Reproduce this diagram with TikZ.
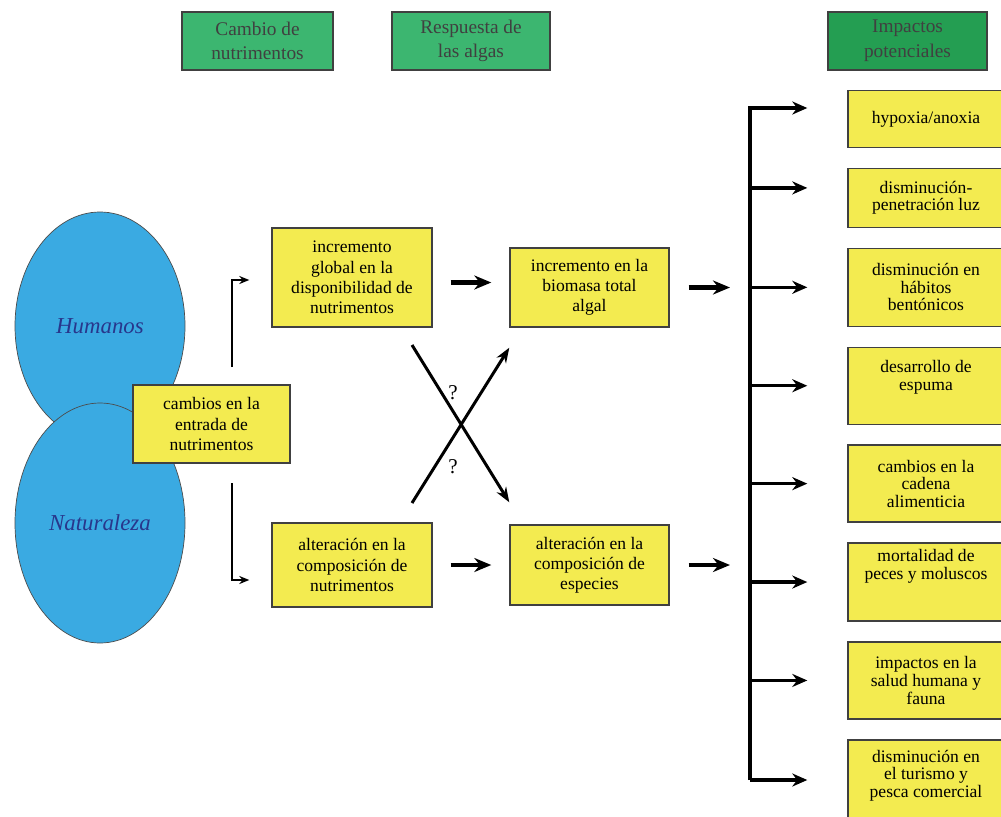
\documentclass[tikz,border=0pt]{standalone}
\usepackage{fontspec}
\setmainfont{Liberation Serif}
\usetikzlibrary{arrows.meta,positioning,shapes.geometric}
\definecolor{boxyellow}{RGB}{243,235,80}
\definecolor{hdrgreen}{RGB}{60,182,112}
\definecolor{hdrdark}{RGB}{36,158,82}
\definecolor{blobblue}{RGB}{58,170,226}
\definecolor{blobtext}{RGB}{40,55,140}
\tikzset{
    box/.style={rectangle,draw=black!75,thick,fill=boxyellow,align=center,
                font=\fontsize{10}{11.5}\selectfont,minimum width=31.8mm},
    impact/.style={box,minimum width=31.2mm,font=\fontsize{10}{10}\selectfont},
    hdr/.style={rectangle,draw=black!75,thick,fill=hdrgreen,align=center,
                text=black!75,font=\fontsize{11}{14}\selectfont,minimum height=11.6mm},
    blob/.style={ellipse,draw=black!70,fill=blobblue,text=blobtext,
                 font=\fontsize{13}{15}\selectfont\itshape,minimum width=34mm},
    fat/.style={-{Stealth[length=3.4mm,width=2.8mm]},line width=2.4pt},
    bus/.style={-{Stealth[length=3mm,width=2.6mm]},line width=2pt},
    elbow/.style={-{Stealth[length=2mm,width=1.6mm]},line width=1.1pt},
    cross/.style={-{Stealth[length=3mm,width=2.2mm]},line width=1.7pt},
    quest/.style={font=\fontsize{12}{12}\selectfont}
}

\begin{document}
\begin{tikzpicture}[x=0.2mm,y=-0.2mm]
    \useasboundingbox[fill=white] (0,0) rectangle (1001,816);

    \node[hdr] (hdr nut) at (257.5,41) [minimum width=30.2mm] {Cambio de\\nutrimentos};
    \node[hdr] (hdr alg) at (471,41)   [minimum width=31.6mm] {Respuesta de\\las algas};
    \node[hdr,fill=hdrdark] (hdr imp) at (907.5,41) [minimum width=31.8mm] {Impactos\\potenciales};

    \node[blob] (hum) at (100,326) [minimum height=45.6mm] {Humanos};
    \node[blob] (nat) at (100,523) [minimum height=48mm]   {Naturaleza};

    \node[box] (input) at (211.5,424) [minimum width=31.4mm,minimum height=15.6mm] {cambios en la\\entrada de\\nutrimentos};

    \node[box] (glob) at (352,277.5) [minimum width=32mm,minimum height=19.8mm] {incremento\\global en la\\disponibilidad de\\nutrimentos};
    \node[box] (altn) at (352,565)   [minimum width=32mm,minimum height=16.8mm] {alteración en la\\composición de\\nutrimentos};
    \node[box] (bio)  at (589.5,287.5) [minimum height=15.8mm] {incremento en la\\biomasa total\\algal};
    \node[box] (esp)  at (589.5,565)   [minimum height=16mm]   {alteración en la\\composición de\\especies};

    \node[impact] (imp 1) at (926,119) [minimum height=11.4mm] {hypoxia/anoxia};
    \node[impact] (imp 2) [below=3.9mm of imp 1,minimum height=11.8mm] {disminución-\\penetración luz};
    \node[impact] (imp 3) [below=3.9mm of imp 2,minimum height=15.6mm] {disminución en\\hábitos\\bentónicos};
    \node[impact] (imp 4) [below=3.9mm of imp 3,minimum height=15.4mm,text depth=12pt] {desarrollo de\\espuma};
    \node[impact] (imp 5) [below=3.9mm of imp 4,minimum height=15.4mm] {cambios en la\\cadena\\alimenticia};
    \node[impact] (imp 6) [below=3.9mm of imp 5,minimum height=15.6mm,text depth=20pt] {mortalidad de\\peces y moluscos};
    \node[impact] (imp 7) [below=3.9mm of imp 6,minimum height=15.4mm] {impactos en la\\salud humana y\\fauna};
    \node[impact] (imp 8) [below=3.9mm of imp 7,minimum height=17mm,text depth=10pt] {disminución en\\el turismo y\\pesca comercial};

    \coordinate (up start)   at (232,367);
    \coordinate (down start) at (232,483);
    \draw[elbow,shorten >=4.4mm] (up start)   |- ([yshift=-0.5mm]glob.west);
    \draw[elbow,shorten >=4.4mm] (down start) |- ([yshift=-3mm]altn.west);

    \draw[fat,shorten <=3.6mm,shorten >=3.6mm] ([yshift=-1mm]glob.east) -- ([yshift=-1mm]glob.east -| bio.west);
    \draw[fat,shorten <=3.6mm,shorten >=3.6mm] (altn.east) -- (esp.west);

    \coordinate (cross a) at (412,345);
    \coordinate (cross b) at (412,503);
    \draw[cross] (cross a) -- ([yshift=4.4mm]esp.north west);
    \draw[cross] (cross b) -- ([yshift=-4mm]bio.south west);
    \node[quest] (q up)   at (453,393) {?};
    \node[quest] (q down) at (453,467) {?};

    \coordinate (bus top) at (750,108);
    \coordinate (bus bot) at (750,780);
    \draw[fat,shorten <=3.8mm,shorten >=4mm] (bio.east) -- (bio.east -| bus top);
    \draw[fat,shorten <=3.8mm,shorten >=4mm] (esp.east) -- (esp.east -| bus top);

    \draw[bus,shorten >=8mm] (bus bot) -- (bus top) -- (bus top -| imp 1.west);
    \draw[bus,shorten >=8mm] ([yshift=2mm]bus top |- imp 2.west) -- ([yshift=2mm]imp 2.west);
    \foreach \i in {3,...,7}
        \draw[bus,shorten >=8mm] (bus top |- imp \i.west) -- (imp \i.west);
    \draw[bus,shorten >=8mm] (bus bot) -- (bus bot -| imp 8.west);
\end{tikzpicture}
\end{document}
